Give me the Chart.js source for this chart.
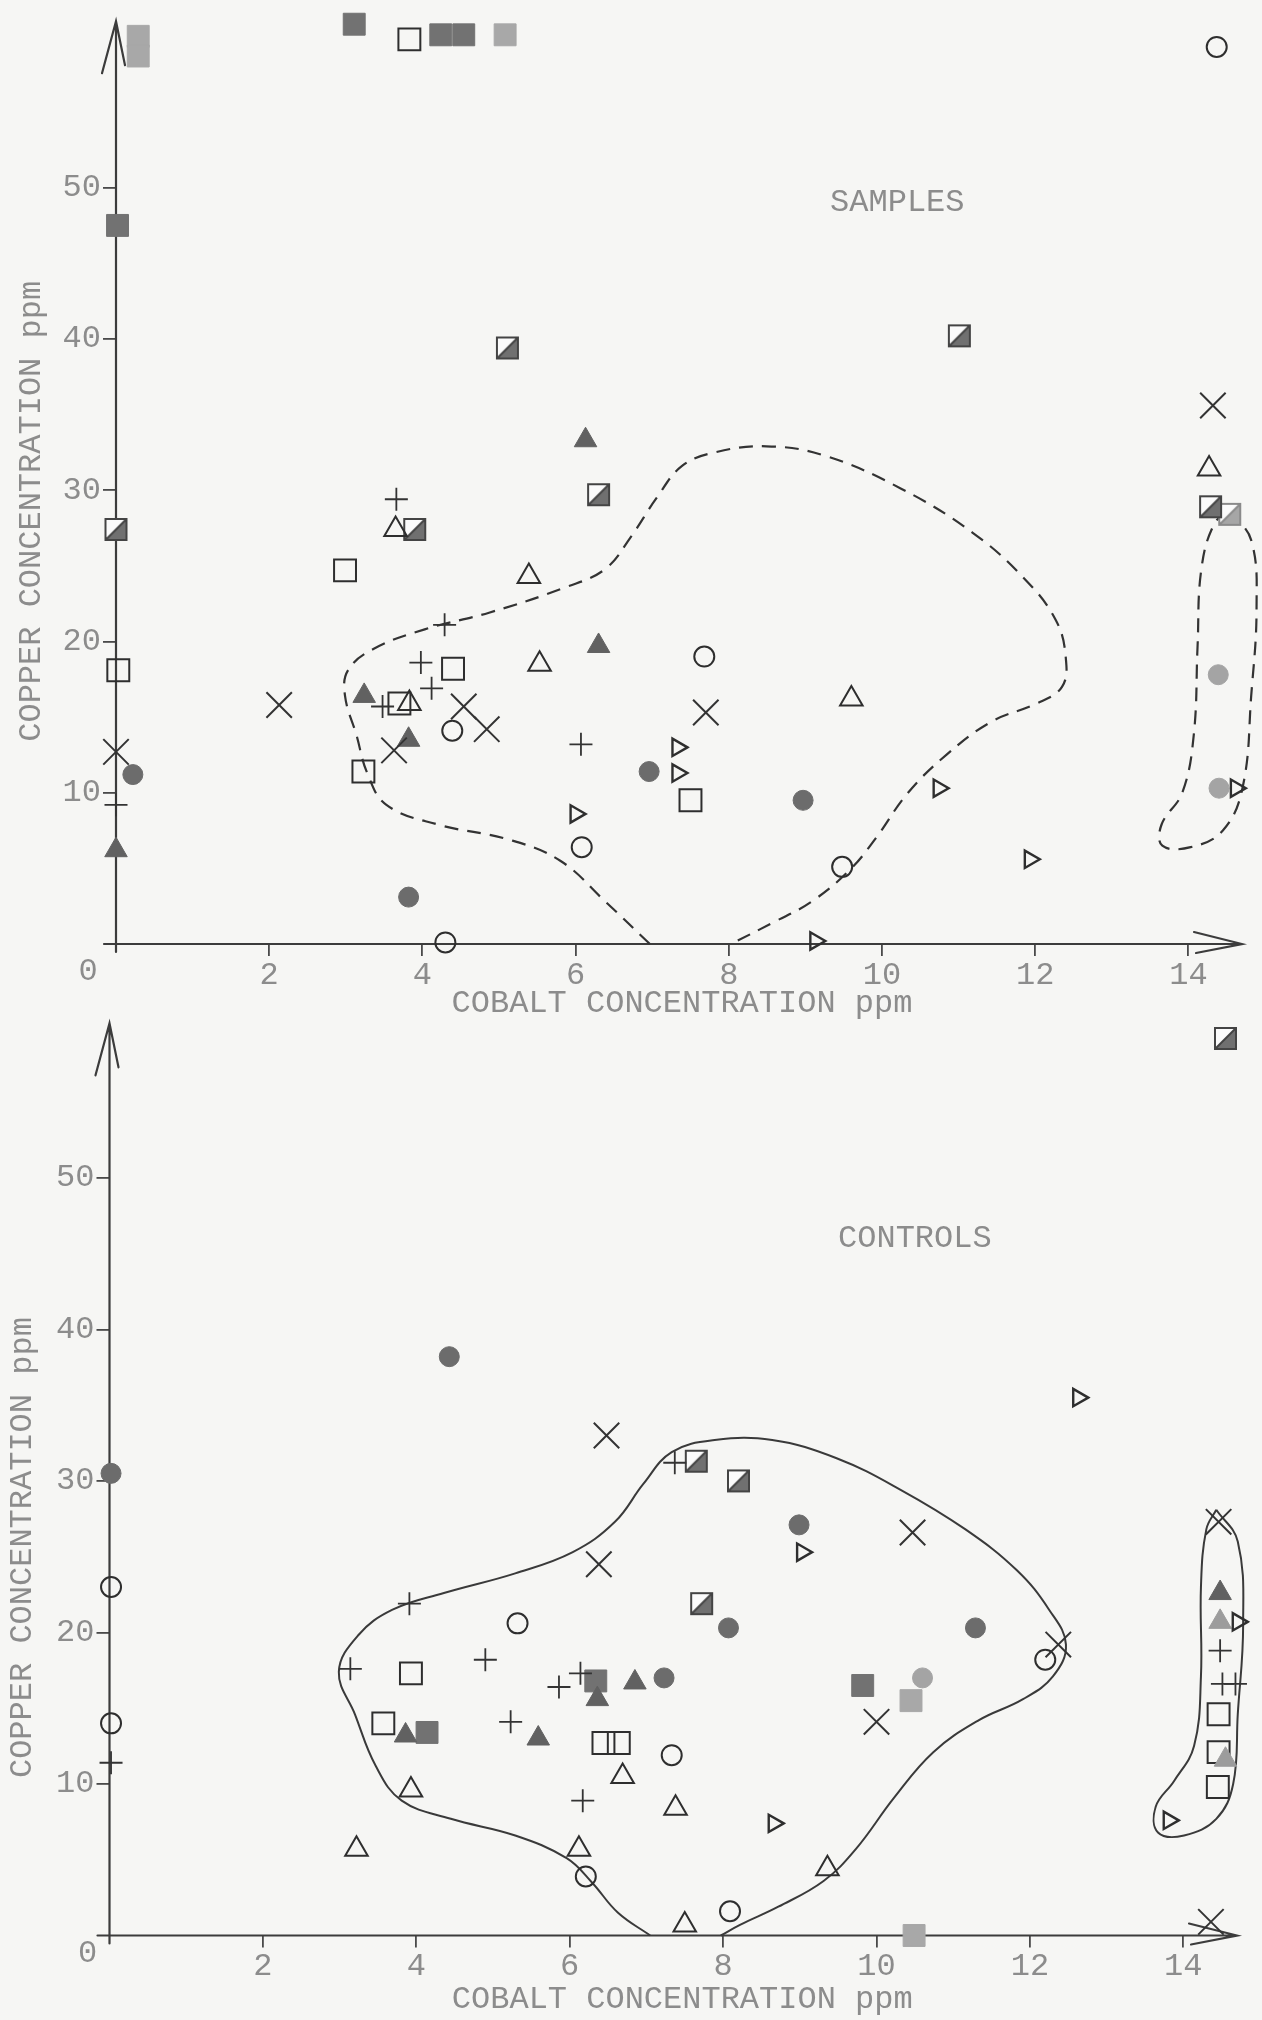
<!DOCTYPE html>
<html>
<head>
<meta charset="utf-8">
<title>Cobalt vs copper concentration</title>
<script src="https://cdn.jsdelivr.net/npm/chart.js@4.4.1/dist/chart.umd.min.js"></script>
<style>
  html, body { margin: 0; padding: 0; background: #f6f6f4; }
  body { position: relative; width: 1262px; height: 2020px; overflow: hidden; }
  canvas { position: absolute; left: 0; }
  #samples { top: 0; }
  #controls { top: 990px; }
</style>
</head>
<body>
<canvas id="samples" width="1262" height="1030"></canvas>
<canvas id="controls" width="1262" height="1030"></canvas>
<script>
// ---------- SAMPLES (cobalt ppm, copper ppm) ----------
const samplesOpenCircle = [[14.37,59.3],[7.68,19.0],[4.39,14.1],[6.08,6.4],[9.48,5.1],[4.30,0.1]];
const samplesGrayCircle = [[6.96,11.4],[8.97,9.5],[0.22,11.2],[3.82,3.1]];
const samplesPaleCircle = [[14.39,17.8],[14.40,10.3]];
const samplesOpenSquare = [[3.83,59.8],[2.99,24.7],[0.03,18.1],[4.40,18.2],[3.70,15.9],[3.23,11.4],[7.50,9.5]];
const samplesGraySquare = [[0.02,47.5],[3.11,60.8],[4.24,60.1],[4.54,60.1]];
const samplesPaleSquare = [[5.08,60.1],[0.29,60.0],[0.29,58.7]];
const samplesHalfSquare = [[5.11,39.4],[11.01,40.2],[6.30,29.7],[3.90,27.4],[14.29,28.9],[0.0,27.4]];
const samplesPaleHalfSquare = [[14.54,28.4]];
const samplesOpenTriangle = [[14.27,31.4],[3.65,27.4],[5.39,24.3],[5.53,18.5],[9.60,16.2],[3.83,15.9]];
const samplesGrayTriangle = [[6.13,33.3],[6.30,19.7],[3.24,16.4],[3.82,13.5],[0.0,6.2]];
const samplesRightTriangle = [[7.33,13.0],[7.33,11.3],[10.74,10.3],[14.62,10.3],[6.00,8.6],[11.93,5.6],[9.13,0.2]];
const samplesPlus = [[3.66,29.4],[4.29,21.1],[3.98,18.6],[4.12,16.9],[3.48,15.7],[6.07,13.2],[0.0,9.2]];
const samplesCross = [[14.32,35.6],[2.13,15.8],[4.54,15.7],[7.70,15.3],[4.84,14.2],[3.63,12.8],[0.0,12.7]];

// dashed envelopes drawn by hand round the sample cluster
const samplesMainEnvelope = [[6.97,0],[6.39,2.8],[5.8,5.5],[5.13,6.9],[4.2,7.9],[3.53,9.2],[3.28,11.3],[3.14,13.8],
  [2.99,16.4],[3.03,18.1],[3.36,19.5],[4.03,20.8],[4.87,21.9],[5.88,23.6],[6.39,24.8],[6.72,26.9],[7.06,29.5],
  [7.39,31.6],[7.82,32.5],[8.49,32.9],[9.24,32.3],[10.25,30.1],[11.18,27.2],[11.85,24.2],[12.27,21.4],[12.4,18.9],
  [12.35,17.0],[12.02,15.9],[11.43,14.7],[10.84,12.5],[10.34,10.0],[9.92,7.0],[9.58,4.9],[9.08,2.8],[8.57,1.4],[8.03,0]];
const samplesEdgeEnvelope = [[14.54,28.6],[14.82,26.7],[14.89,22.3],[14.82,16.4],[14.71,10.4],[14.45,7.5],[14.03,6.4],
  [13.66,6.5],[13.65,7.9],[13.92,10.0],[14.07,13.8],[14.12,19.7],[14.17,24.8],[14.34,27.8],[14.54,28.6]];

// ---------- CONTROLS ----------
const controlsOpenCircle = [[0.02,23.0],[5.32,20.6],[0.02,14.0],[7.33,11.9],[12.20,18.2],[6.21,3.9],[8.09,1.6]];
const controlsGrayCircle = [[4.43,38.2],[0.02,30.5],[8.99,27.1],[8.07,20.3],[11.29,20.3],[7.23,17.0]];
const controlsPaleCircle = [[10.60,17.0]];
const controlsOpenSquare = [[3.93,17.3],[3.57,14.0],[6.44,12.7],[6.64,12.7],[14.46,14.6],[14.46,12.1],[14.45,9.8]];
const controlsGraySquare = [[6.34,16.8],[4.14,13.4],[9.82,16.5]];
const controlsPaleSquare = [[10.45,15.5],[10.49,0.0]];
const controlsHalfSquare = [[14.55,59.2],[7.65,31.3],[8.20,30.0],[7.72,21.9]];
const controlsOpenTriangle = [[3.93,9.6],[6.69,10.5],[7.38,8.4],[6.12,5.7],[9.36,4.4],[3.22,5.7],[7.50,0.7]];
const controlsGrayTriangle = [[3.86,13.2],[5.59,13.0],[6.85,16.7],[6.36,15.6],[14.48,22.6]];
const controlsPaleTriangle = [[14.48,20.7],[14.55,11.6]];
const controlsRightTriangle = [[12.63,35.5],[9.03,25.3],[14.71,20.7],[13.81,7.6],[8.66,7.4]];
const controlsPlus = [[7.37,31.2],[3.91,21.9],[3.14,17.6],[4.90,18.2],[6.14,17.3],[5.86,16.4],[5.23,14.1],
  [6.17,8.9],[0.02,11.4],[14.48,18.8],[14.51,16.6],[14.68,16.6]];
const controlsCross = [[6.48,33.0],[10.47,26.6],[6.38,24.5],[14.46,27.3],[12.37,19.2],[10.00,14.1],[14.36,0.9]];

const controlsMainEnvelope = [[7.05,0],[6.63,1.5],[6.29,3.5],[5.96,5.1],[5.29,6.6],[4.45,7.7],[3.81,8.9],[3.47,11.2],
  [3.2,14.6],[2.99,17.4],[3.24,19.8],[3.69,21.5],[4.36,22.6],[5.29,23.9],[6.04,25.3],[6.59,27.3],[6.96,29.8],
  [7.33,31.9],[7.89,32.7],[8.64,32.7],[9.48,31.5],[10.32,29.4],[11.16,26.8],[11.83,24.1],[12.25,21.5],[12.47,19.2],
  [12.3,17.1],[11.91,15.6],[11.33,14.2],[10.74,12.1],[10.23,9.1],[9.73,5.7],[9.31,3.6],[8.72,1.9],[8.22,0.7],[7.97,0]];
const controlsEdgeEnvelope = [[14.43,28.1],[14.71,26.0],[14.78,20.5],[14.71,14.6],[14.65,10.0],[14.43,7.7],[14.01,6.6],
  [13.67,6.8],[13.64,8.5],[13.88,10.2],[14.14,12.5],[14.23,17.1],[14.23,23.0],[14.3,26.8],[14.43,28.1]];

// axis ticks
const xTickValues = [2, 4, 6, 8, 10, 12, 14];
const yTickValues = [10, 20, 30, 40, 50];

const FONT = '"Liberation Mono", "DejaVu Sans Mono", monospace';
const INK = '#2e2e2e';
const TEXT = '#8c8c8c';

function halfSquare(fill, edge) {
  const c = document.createElement('canvas');
  c.width = 25; c.height = 25;
  const g = c.getContext('2d');
  g.fillStyle = '#fbfbfb';
  g.fillRect(2, 2, 21, 21);
  g.beginPath();
  g.moveTo(2, 23); g.lineTo(23, 2); g.lineTo(23, 23); g.closePath();
  g.fillStyle = fill; g.fill();
  g.strokeStyle = edge; g.lineWidth = 2;
  g.strokeRect(2, 2, 21, 21);
  g.beginPath(); g.moveTo(2, 23); g.lineTo(23, 2); g.stroke();
  return c;
}

const CLEAR = 'rgba(0,0,0,0)';
const MARK = {
  openCircle:   { pointStyle: 'circle', pointRadius: 10, pointBackgroundColor: CLEAR, pointBorderColor: INK, pointBorderWidth: 2 },
  grayCircle:   { pointStyle: 'circle', pointRadius: 10, pointBackgroundColor: '#6c6c6c', pointBorderColor: '#6c6c6c', pointBorderWidth: 1 },
  paleCircle:   { pointStyle: 'circle', pointRadius: 10, pointBackgroundColor: '#a4a4a4', pointBorderColor: '#a4a4a4', pointBorderWidth: 1 },
  openSquare:   { pointStyle: 'rect', pointRadius: 15.5, pointBackgroundColor: CLEAR, pointBorderColor: INK, pointBorderWidth: 2 },
  graySquare:   { pointStyle: 'rect', pointRadius: 15.5, pointBackgroundColor: '#727272', pointBorderColor: '#727272', pointBorderWidth: 1 },
  paleSquare:   { pointStyle: 'rect', pointRadius: 15.5, pointBackgroundColor: '#a8a8a8', pointBorderColor: '#a8a8a8', pointBorderWidth: 1 },
  halfSquare:   { pointStyle: halfSquare('#707070', '#444') },
  paleHalfSquare: { pointStyle: halfSquare('#a6a6a6', '#8a8a8a') },
  openTriangle: { pointStyle: 'triangle', pointRadius: 13, pointBackgroundColor: CLEAR, pointBorderColor: INK, pointBorderWidth: 2 },
  grayTriangle: { pointStyle: 'triangle', pointRadius: 13, pointBackgroundColor: '#616161', pointBorderColor: '#616161', pointBorderWidth: 1 },
  paleTriangle: { pointStyle: 'triangle', pointRadius: 13, pointBackgroundColor: '#9c9c9c', pointBorderColor: '#9c9c9c', pointBorderWidth: 1 },
  rightTriangle:{ pointStyle: 'triangle', pointRadius: 10, pointRotation: 90, pointBackgroundColor: CLEAR, pointBorderColor: INK, pointBorderWidth: 2.4 },
  plus:         { pointStyle: 'cross', pointRadius: 11.5, pointBorderColor: '#333', pointBorderWidth: 1.8 },
  cross:        { pointStyle: 'crossRot', pointRadius: 18, pointBorderColor: '#333', pointBorderWidth: 2 }
};

function toXY(a) { return a.map(p => ({ x: p[0], y: p[1] })); }

function markerSet(arr, kind) {
  return Object.assign({ data: toXY(arr), clip: false, showLine: false }, MARK[kind]);
}

function envelope(arr, dashed) {
  return {
    data: toXY(arr), showLine: true, clip: false, pointRadius: 0, tension: 0.4,
    borderColor: dashed ? '#333' : '#3a3a3a', borderWidth: dashed ? 2.2 : 2,
    borderDash: dashed ? [14, 9] : [], fill: false
  };
}

// axes with arrow heads, origin label, axis titles and panel name
const paperAxes = {
  id: 'paperAxes',
  beforeDatasetsDraw(chart, args, o) {
    const { ctx, chartArea } = chart;
    const xs = chart.scales.x, ys = chart.scales.y;
    const ox = xs.getPixelForValue(0), oy = ys.getPixelForValue(0);
    const xEnd = xs.getPixelForValue(o.xArrow), yEnd = ys.getPixelForValue(o.yArrow);
    ctx.save();
    ctx.strokeStyle = '#3c3c3c';
    ctx.lineWidth = 2.2;
    ctx.lineCap = 'round';
    ctx.beginPath();
    ctx.moveTo(ox - 12, oy); ctx.lineTo(xEnd, oy);
    ctx.moveTo(xEnd - 48, oy - 12); ctx.lineTo(xEnd, oy); ctx.lineTo(xEnd - 46, oy + 9);
    ctx.moveTo(ox, oy + 8); ctx.lineTo(ox, yEnd);
    ctx.moveTo(ox - 14, yEnd + 52); ctx.lineTo(ox, yEnd); ctx.lineTo(ox + 9, yEnd + 44);
    ctx.stroke();
    ctx.restore();
  },
  afterDraw(chart, args, o) {
    const { ctx, chartArea } = chart;
    const xs = chart.scales.x, ys = chart.scales.y;
    const ox = xs.getPixelForValue(0), oy = ys.getPixelForValue(0);
    ctx.save();
    ctx.fillStyle = TEXT;
    ctx.font = '32px ' + FONT;
    ctx.textAlign = 'center';
    ctx.textBaseline = 'middle';
    ctx.fillText('0', ox + o.zero[0], oy + o.zero[1]);
    ctx.fillText(o.xTitle, (chartArea.left + chartArea.right) / 2 + o.xTitleDx, oy + o.xTitleDy);
    ctx.fillText(o.panel, xs.getPixelForValue(o.panelAt[0]), ys.getPixelForValue(o.panelAt[1]));
    ctx.translate(o.yTitleX, ys.getPixelForValue(o.yTitleAt));
    ctx.rotate(-Math.PI / 2);
    ctx.fillText(o.yTitle, 0, 0);
    ctx.restore();
  }
};

function drawPanel(id, frame, sets) {
  const datasets = [];
  sets.forEach(s => datasets.push(s));
  new Chart(document.getElementById(id), {
    type: 'scatter',
    data: { datasets },
    plugins: [paperAxes],
    options: {
      responsive: false,
      animation: false,
      devicePixelRatio: 1,
      layout: { padding: { left: 0, top: frame.top, right: frame.right, bottom: 0 } },
      plugins: {
        legend: { display: false },
        tooltip: { enabled: false },
        paperAxes: frame
      },
      scales: {
        x: {
          type: 'linear', min: 0, max: frame.xArrow,
          border: { display: false },
          grid: { drawOnChartArea: false, drawTicks: true, tickLength: 12, color: '#4a4a4a', lineWidth: 1.8 },
          ticks: { color: TEXT, font: { family: FONT, size: 32 }, padding: 0, maxRotation: 0, autoSkip: false },
          afterBuildTicks: s => { s.ticks = xTickValues.map(v => ({ value: v })); },
          afterFit: s => { s.height = frame.height - frame.axisY; }
        },
        y: {
          type: 'linear', min: 0, max: frame.yMax,
          border: { display: false },
          grid: { drawOnChartArea: false, drawTicks: true, tickLength: 13, color: '#4a4a4a', lineWidth: 1.8 },
          ticks: { color: TEXT, font: { family: FONT, size: 32 }, padding: 2, autoSkip: false },
          afterBuildTicks: s => { s.ticks = yTickValues.map(v => ({ value: v })); },
          afterFit: s => { s.width = frame.left; }
        }
      }
    }
  });
}

drawPanel('samples',
  { left: 116, axisY: 944, height: 1030, top: 17, right: 20, yMax: 61, xArrow: 14.7, yArrow: 61,
    zero: [-28, 28], xTitle: 'COBALT CONCENTRATION ppm', xTitleDx: 3, xTitleDy: 60,
    yTitle: 'COPPER CONCENTRATION ppm', yTitleX: 32, yTitleAt: 28.6,
    panel: 'SAMPLES', panelAt: [10.2, 49] },
  [
    markerSet(samplesCross, 'cross'),
    markerSet(samplesPlus, 'plus'),
    markerSet(samplesRightTriangle, 'rightTriangle'),
    markerSet(samplesOpenTriangle, 'openTriangle'),
    markerSet(samplesGrayTriangle, 'grayTriangle'),
    markerSet(samplesOpenCircle, 'openCircle'),
    markerSet(samplesGrayCircle, 'grayCircle'),
    markerSet(samplesPaleCircle, 'paleCircle'),
    markerSet(samplesOpenSquare, 'openSquare'),
    markerSet(samplesHalfSquare, 'halfSquare'),
    markerSet(samplesPaleHalfSquare, 'paleHalfSquare'),
    markerSet(samplesGraySquare, 'graySquare'),
    markerSet(samplesPaleSquare, 'paleSquare'),
    envelope(samplesMainEnvelope, true),
    envelope(samplesEdgeEnvelope, true)
  ]);

drawPanel('controls',
  { left: 109.5, axisY: 945.5, height: 1030, top: 14.6, right: 25, yMax: 61, xArrow: 14.7, yArrow: 60.2,
    zero: [-22, 18], xTitle: 'COBALT CONCENTRATION ppm', xTitleDx: 9, xTitleDy: 64,
    yTitle: 'COPPER CONCENTRATION ppm', yTitleX: 23, yTitleAt: 25.6,
    panel: 'CONTROLS', panelAt: [10.5, 46] },
  [
    markerSet(controlsCross, 'cross'),
    markerSet(controlsPlus, 'plus'),
    markerSet(controlsRightTriangle, 'rightTriangle'),
    markerSet(controlsOpenTriangle, 'openTriangle'),
    markerSet(controlsGrayTriangle, 'grayTriangle'),
    markerSet(controlsPaleTriangle, 'paleTriangle'),
    markerSet(controlsOpenCircle, 'openCircle'),
    markerSet(controlsGrayCircle, 'grayCircle'),
    markerSet(controlsPaleCircle, 'paleCircle'),
    markerSet(controlsOpenSquare, 'openSquare'),
    markerSet(controlsHalfSquare, 'halfSquare'),
    markerSet(controlsGraySquare, 'graySquare'),
    markerSet(controlsPaleSquare, 'paleSquare'),
    envelope(controlsMainEnvelope, false),
    envelope(controlsEdgeEnvelope, false)
  ]);
</script>
</body>
</html>
